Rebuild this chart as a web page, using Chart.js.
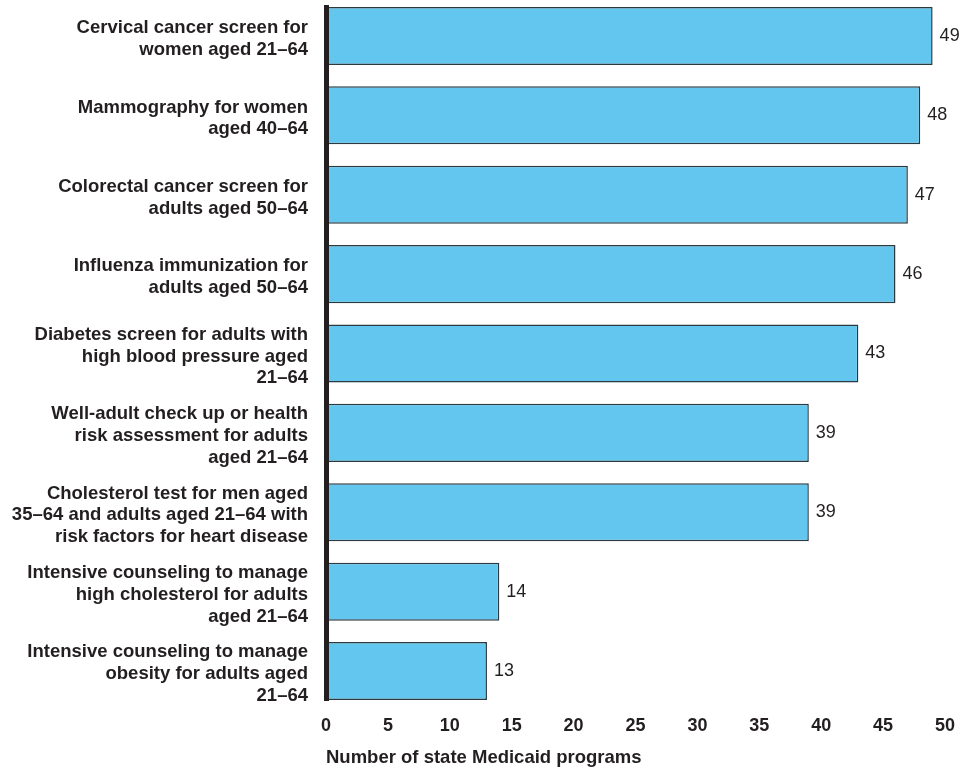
<!DOCTYPE html>
<html>
<head>
<meta charset="utf-8">
<script src="https://cdn.jsdelivr.net/npm/chart.js@4/dist/chart.umd.min.js"></script>
<style>
  html, body { margin: 0; padding: 0; background: #ffffff; }
  #wrap { position: relative; width: 977px; height: 771px; }
</style>
</head>
<body>
<div id="wrap"><canvas id="c" width="977" height="771"></canvas></div>
<script>
const categories = [
  ["Cervical cancer screen for", "women aged 21\u201364"],
  ["Mammography for women", "aged 40\u201364"],
  ["Colorectal cancer screen for", "adults aged 50\u201364"],
  ["Influenza immunization for", "adults aged 50\u201364"],
  ["Diabetes screen for adults with", "high blood pressure aged", "21\u201364"],
  ["Well-adult check up or health", "risk assessment for adults", "aged 21\u201364"],
  ["Cholesterol test for men aged", "35\u201364 and adults aged 21\u201364 with", "risk factors for heart disease"],
  ["Intensive counseling to manage", "high cholesterol for adults", "aged 21\u201364"],
  ["Intensive counseling to manage", "obesity for adults aged", "21\u201364"]
];
const programCounts = [49, 48, 47, 46, 43, 39, 39, 14, 13];
const xTickValues = [0, 5, 10, 15, 20, 25, 30, 35, 40, 45, 50];
const xAxisTitle = "Number of state Medicaid programs";

const FONT = '"Liberation Sans", Arial, Helvetica, sans-serif';
const TEXT = '#231f20';

const valueLabels = {
  id: 'valueLabels',
  afterDatasetsDraw(chart) {
    const ctx = chart.ctx;
    const meta = chart.getDatasetMeta(0);
    ctx.save();
    ctx.font = '18px ' + FONT;
    ctx.fillStyle = TEXT;
    ctx.textAlign = 'left';
    ctx.textBaseline = 'middle';
    meta.data.forEach((bar, i) => {
      ctx.fillText(String(programCounts[i]), bar.x + 7, bar.y);
    });
    ctx.restore();
  }
};

new Chart(document.getElementById('c'), {
  type: 'bar',
  data: {
    datasets: [{
      data: programCounts.map((v, i) => ({ x: v, y: i })),
      backgroundColor: '#62c6ee',
      borderColor: '#2b3940',
      borderWidth: 1.5,
      borderSkipped: false,
      categoryPercentage: 1,
      barPercentage: 0.731
    }]
  },
  options: {
    indexAxis: 'y',
    responsive: false,
    animation: false,
    layout: { autoPadding: false, padding: { top: 7, right: 32, bottom: 0, left: 0 } },
    plugins: { legend: { display: false }, tooltip: { enabled: false } },
    scales: {
      y: {
        type: 'linear',
        offset: false,
        reverse: true,
        min: -0.365,
        max: categories.length - 1 + 0.365,
        afterBuildTicks: s => { s.ticks = categories.map((_, i) => ({ value: i })); },
        afterFit: s => { s.width = 326; s.paddingTop = 0; s.paddingBottom = 0; },
        grid: { display: false, drawTicks: false, offset: false },
        border: { display: true, color: TEXT, width: 5, z: 1 },
        ticks: {
          autoSkip: false,
          padding: 18,
          labelOffset: 3,
          color: TEXT,
          font: { family: FONT, size: 18.5, weight: 'bold', lineHeight: 1.18 },
          callback: v => categories[v]
        }
      },
      x: {
        type: 'linear',
        offset: false,
        min: 0,
        max: 50,
        afterBuildTicks: s => { s.ticks = xTickValues.map(v => ({ value: v })); },
        afterFit: s => { s.height = 71; s.paddingLeft = 0; s.paddingRight = 0; },
        grid: { display: false, drawTicks: false },
        border: { display: false },
        ticks: {
          autoSkip: false,
          maxRotation: 0,
          padding: 15,
          color: TEXT,
          font: { family: FONT, size: 18, weight: 'bold' }
        },
        title: {
          display: true,
          text: xAxisTitle,
          align: 'start',
          color: TEXT,
          font: { family: FONT, size: 18.5, weight: 'bold', lineHeight: 1.2 },
          padding: { top: 0, bottom: 2 }
        }
      }
    }
  },
  plugins: [valueLabels]
});
</script>
</body>
</html>
